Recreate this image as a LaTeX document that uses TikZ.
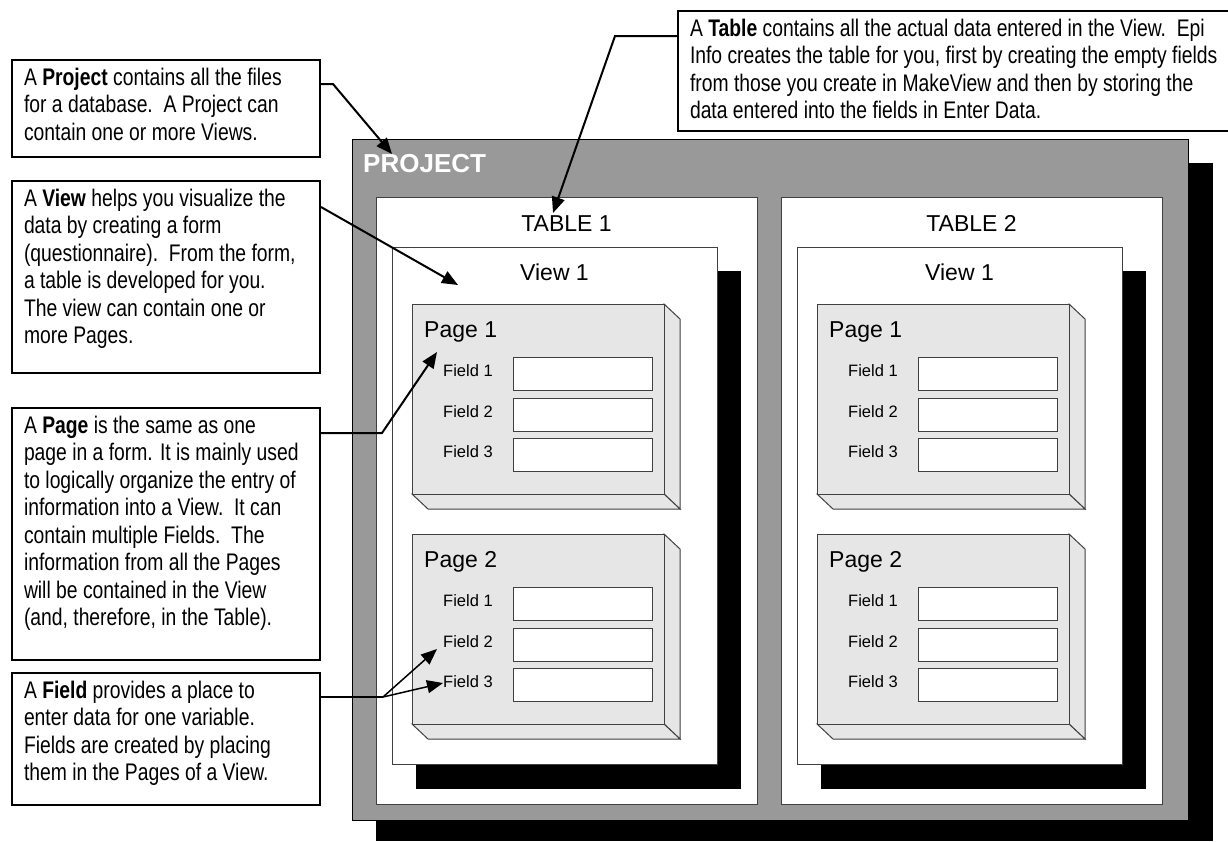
\documentclass[tikz,border=0pt]{standalone}
\usepackage{fontspec}
\setmainfont{Liberation Sans}
\newfontfamily\notefont[FakeStretch=0.805]{Liberation Sans}
\usetikzlibrary{arrows.meta,calc}

\definecolor{projgrau}{HTML}{999999}
\definecolor{seitengrau}{HTML}{E6E6E6}
\definecolor{randgrau}{HTML}{404040}

% Text einer Erklaerung: Breite, Hoehe, Zeilen
\newcommand{\notiztext}[3]{\parbox[t][#2][t]{#1}{\begin{tabular}[t]{@{}l@{}}#3\end{tabular}}}

% Seite mit drei Feldern: Name, x, y, Titel
\newcommand{\seite}[4]{%
    \begin{scope}[shift={(#2,#3)}]
        \draw[rand, fill=seitengrau] (252,0) -- (268,15) -- (268,205) -- (252,190) -- cycle;
        \draw[rand, fill=seitengrau] (0,190) -- (16,205) -- (268,205) -- (252,190) -- cycle;
        \draw[rand, fill=seitengrau] (0,0) rectangle (252,190);
        \node[titel, anchor=base west] (#1t) at (12,33) {#4};
        \foreach \i [evaluate=\i as \oben using 53+40.5*(\i-1)] in {1,2,3} {
            \node[feld] (#1f\i) at (101,\oben) {};
            \node[feldtext] (#1l\i) at (31,\oben+19.5) {Field \i};
        }
    \end{scope}}

\tikzset{
    notiz/.style={draw, line width=2pt, fill=white, anchor=north west,
        inner xsep=12pt, inner ysep=6pt, font=\notefont\fontsize{24}{27.5}\selectfont},
    pfeil/.style={line width=2pt, -{Triangle[length=16pt,width=13pt]}},
    rand/.style={draw=randgrau, line width=1pt},
    titel/.style={inner sep=0pt, font=\fontsize{23}{27}\selectfont},
    feld/.style={rand, fill=white, anchor=north west, inner sep=0pt,
        minimum width=139pt, minimum height=33pt},
    feldtext/.style={inner sep=0pt, anchor=base west, font=\fontsize{16.5}{20}\selectfont}
}

\begin{document}
\begin{tikzpicture}[x=1pt, y=-1pt]
    \useasboundingbox (0,0) rectangle (1228,841);

    % Projekt
    \fill (376,163) rectangle (1213,841);
    \draw[rand, draw=black, fill=projgrau] (352,139) rectangle (1188,820);
    \node[inner sep=0pt, anchor=base west, text=white, font=\bfseries\fontsize{26}{30}\selectfont]
        (projtitel) at (363,172) {PROJECT};

    % Tabellen mit View und Seiten
    \foreach \t/\dx in {1/0, 2/405} {
        \begin{scope}[shift={(\dx,0)}]
            \draw[rand, fill=white] (376,197) rectangle (757,804);
            \node[titel, anchor=base] (tab\t) at (566.5,231.5) {TABLE \t};
            \fill (416,271) rectangle (741,789);
            \draw[rand, fill=white] (392,247) rectangle (717,764);
            \node[titel, anchor=base] (view\t) at (554.5,280) {View 1};
            \seite{p\t a}{412}{304}{Page 1}
            \seite{p\t b}{412}{534}{Page 2}
        \end{scope}
    }

    % Erklaerungen
    \node[notiz] (nproj) at (11,59) {\notiztext{284pt}{85pt}{%
        A \textbf{Project} contains all the files\\
        for a database.\ \ A Project can\\
        contain one or more Views.}};
    \node[notiz] (nview) at (11,180) {\notiztext{284pt}{180pt}{%
        A \textbf{View} helps you visualize the\\
        data by creating a form\\
        (questionnaire).\ \ From the form,\\
        a table is developed for you.\\
        The view can contain one or\\
        more Pages.}};
    \node[notiz] (npage) at (11,407) {\notiztext{284pt}{240pt}{%
        A \textbf{Page} is the same as one\\
        page in a form. It is mainly used\\
        to logically organize the entry of\\
        information into a View.\ \ It can\\
        contain multiple Fields.\ \ The\\
        information from all the Pages\\
        will be contained in the View\\
        (and, therefore, in the Table).}};
    \node[notiz] (nfield) at (11,672) {\notiztext{284pt}{120pt}{%
        A \textbf{Field} provides a place to\\
        enter data for one variable.\\
        Fields are created by placing\\
        them in the Pages of a View.}};
    \node[notiz] (ntab) at (677,10) {\notiztext{545pt}{108pt}{%
        A \textbf{Table} contains all the actual data entered in the View.\ \ Epi\\
        Info creates the table for you, first by creating the empty fields\\
        from those you create in MakeView and then by storing the\\
        data entered into the fields in Enter Data.}};

    % Pfeile
    \coordinate (projspitze) at (392,154);
    \coordinate (tabspitze) at (553,213);
    \coordinate (viewspitze) at (458,285);
    \coordinate (seitespitze) at (437,352);
    \coordinate (feldspitzea) at (437,649);
    \coordinate (feldspitzeb) at (443,683);
    \coordinate (feldknick) at ($(nfield.north east)+(62,25)$);
    \draw[pfeil] ($(nproj.north east)+(0,25)$) -- ++(12,0) -- (projspitze);
    \draw[pfeil] ($(ntab.north west)+(0,26)$) -- ++(-62,0) -- (tabspitze);
    \draw[pfeil] ($(nview.north east)+(0,27)$) -- (viewspitze);
    \draw[pfeil] ($(npage.north east)+(0,26)$) -- ++(61,0) -- (seitespitze);
    \draw[line width=2pt] ($(nfield.north east)+(0,25)$) -- (feldknick);
    \draw[pfeil, line width=1.5pt] (feldknick) -- (feldspitzea);
    \draw[pfeil, line width=1.5pt] (feldknick) -- (feldspitzeb);

\end{tikzpicture}
\end{document}
